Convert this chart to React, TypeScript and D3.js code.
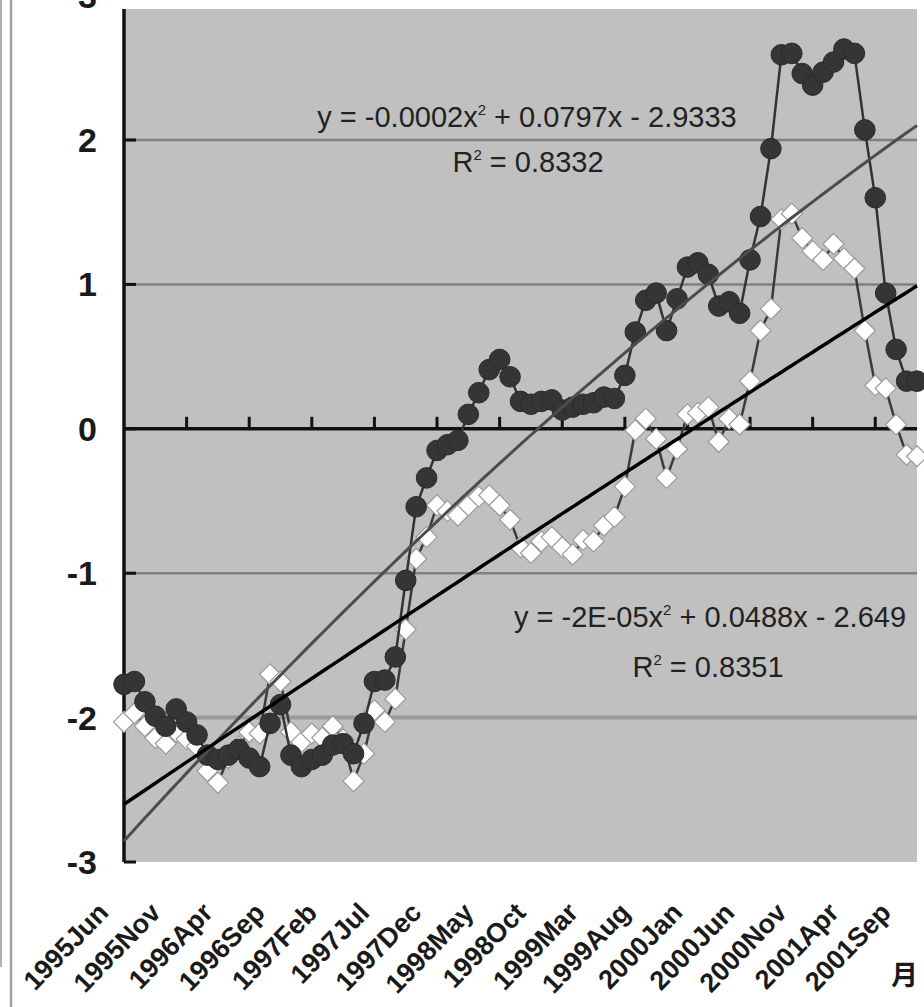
import React from 'react';
import * as d3 from 'd3';

const W = 924;
const H = 1007;

// monthly categories 1995Jun .. 2001Oct (77 months)
const monthNames = ['Jan', 'Feb', 'Mar', 'Apr', 'May', 'Jun', 'Jul', 'Aug', 'Sep', 'Oct', 'Nov', 'Dec'];
const categories: string[] = [];
for (let k = 0; k < 77; k++) {
  const m = 5 + k;
  categories.push(`${1995 + Math.floor(m / 12)}${monthNames[m % 12]}`);
}

const tickLabels = [
  '1995Jun', '1995Nov', '1996Apr', '1996Sep', '1997Feb', '1997Jul', '1997Dec', '1998May',
  '1998Oct', '1999Mar', '1999Aug', '2000Jan', '2000Jun', '2000Nov', '2001Apr', '2001Sep',
];

const yTicks = [-3, -2, -1, 0, 1, 2, 3];
const gridValues = [-2, -1, 1, 2];

// dark circle series
const circleSeries = [
  -1.77, -1.75, -1.89, -1.99, -2.06, -1.94, -2.03, -2.12, -2.26, -2.29,
  -2.26, -2.22, -2.28, -2.34, -2.04, -1.91, -2.26, -2.34, -2.29, -2.26,
  -2.19, -2.18, -2.25, -2.04, -1.75, -1.74, -1.58, -1.05, -0.54, -0.34,
  -0.15, -0.11, -0.08, 0.10, 0.25, 0.41, 0.48, 0.36, 0.19, 0.17,
  0.19, 0.20, 0.13, 0.15, 0.17, 0.18, 0.22, 0.21, 0.37, 0.67,
  0.89, 0.94, 0.68, 0.90, 1.12, 1.15, 1.07, 0.85, 0.88, 0.80,
  1.17, 1.47, 1.94, 2.59, 2.60, 2.46, 2.38, 2.47, 2.54, 2.63,
  2.60, 2.07, 1.60, 0.94, 0.55, 0.33, 0.33,
];

// white diamond series
const diamondSeries = [
  -2.03, -1.97, -2.06, -2.14, -2.18, -2.10, -2.15, -2.20, -2.37, -2.45,
  -2.28, -2.20, -2.10, -2.11, -1.70, -1.75, -2.10, -2.17, -2.11, -2.14,
  -2.06, -2.15, -2.44, -2.25, -1.95, -2.03, -1.87, -1.39, -0.90, -0.75,
  -0.53, -0.57, -0.60, -0.53, -0.47, -0.46, -0.53, -0.63, -0.82, -0.86,
  -0.78, -0.75, -0.82, -0.87, -0.77, -0.78, -0.67, -0.61, -0.40, -0.01,
  0.07, -0.07, -0.34, -0.14, 0.10, 0.11, 0.15, -0.09, 0.07, 0.03,
  0.33, 0.68, 0.83, 1.45, 1.49, 1.32, 1.23, 1.17, 1.28, 1.18,
  1.11, 0.68, 0.30, 0.28, 0.03, -0.18, -0.19,
];

// polynomial trendline coefficients [x^2, x, const], x = 1..N
const circleTrendCoef = [-0.000186, 0.0797, -2.9333];
const diamondTrendCoef = [-0.00002, 0.0488, -2.649];

const circleEq = { pre: 'y = -0.0002x', post: ' + 0.0797x - 2.9333', r2: ' = 0.8332' };
const diamondEq = { pre: 'y = -2E-05x', post: ' + 0.0488x - 2.649', r2: ' = 0.8351' };

const FONT = "'Liberation Sans', Arial, sans-serif";

export default function App() {
  const left = 124;
  const right = 917;
  const bottom = 862;
  const unit = 144.4;
  const x = d3.scalePoint<string>().domain(categories).range([left, right]);
  const y = d3.scaleLinear().domain([-3, 3]).range([bottom, bottom - 6 * unit]);
  const tIdx = d3.scaleLinear().domain([0, categories.length - 1]).range([left, right]);

  const seriesLine = d3
    .line<number>()
    .x((_, i) => x(categories[i]) as number)
    .y((d) => y(d));

  const trendPath = (coef: number[]) => {
    const pts: [number, number][] = d3
      .range(0, categories.length - 1 + 0.0001, 0.5)
      .map((t) => {
        const xx = t + 1;
        return [tIdx(t), y(coef[0] * xx * xx + coef[1] * xx + coef[2])];
      });
    return d3.line()(pts) as string;
  };

  const r = 10.5;
  const diamondPath = `M0,${-r}L${r},0L0,${r}L${-r},0Z`;

  const xTickCats = categories.filter((_, i) => i % 6 === 0 && i > 0);

  return (
    <svg
      width={W}
      height={H}
      viewBox={`0 0 ${W} ${H}`}
      style={{ position: 'absolute', left: 0, top: 0, background: '#fff' }}
    >
      {/* frame lines on the left */}
      <line x1={1} x2={1} y1={0} y2={967} stroke="#b0b0b0" strokeWidth={2} />
      <line x1={11} x2={11} y1={0} y2={H} stroke="#a0a0a0" strokeWidth={2.5} />

      {/* plot area */}
      <rect x={left} y={9} width={right - left} height={bottom - 9} fill="#c0c0c0" />

      {/* gridlines */}
      {gridValues.map((v) => (
        <line
          key={`g${v}`}
          x1={left}
          x2={right}
          y1={y(v)}
          y2={y(v)}
          stroke={v === -2 ? '#9a9a9a' : '#808080'}
          strokeWidth={v === -2 ? 4 : 2.5}
        />
      ))}

      {/* y axis */}
      <line x1={left} x2={left} y1={9} y2={bottom} stroke="#111" strokeWidth={3.5} />
      {yTicks.map((v) => (
        <g key={`yt${v}`}>
          <line x1={left} x2={left + 12} y1={y(v)} y2={y(v)} stroke="#111" strokeWidth={3} />
          <text
            x={97}
            y={y(v) + 12}
            textAnchor="end"
            fontFamily={FONT}
            fontWeight="bold"
            fontSize={34}
            fill="#1a1a1a"
          >
            {v < 0 ? `-${Math.abs(v)}` : `${v}`}
          </text>
        </g>
      ))}

      {/* x axis at zero */}
      <line x1={left} x2={right} y1={y(0)} y2={y(0)} stroke="#111" strokeWidth={3.5} />
      {xTickCats.map((c) => (
        <line
          key={`xt${c}`}
          x1={x(c)}
          x2={x(c)}
          y1={y(0)}
          y2={y(0) - 12}
          stroke="#111"
          strokeWidth={3}
        />
      ))}

      {/* diamond series */}
      <path d={seriesLine(diamondSeries) as string} fill="none" stroke="#3a3a3a" strokeWidth={2.5} />
      {diamondSeries.map((v, i) => (
        <path
          key={`d${i}`}
          d={diamondPath}
          transform={`translate(${x(categories[i])},${y(v)})`}
          fill="#ffffff"
          stroke="#9a9a9a"
          strokeWidth={1.2}
        />
      ))}

      {/* circle series */}
      <path d={seriesLine(circleSeries) as string} fill="none" stroke="#333" strokeWidth={2.5} />
      {circleSeries.map((v, i) => (
        <circle
          key={`c${i}`}
          cx={x(categories[i])}
          cy={y(v)}
          r={10.3}
          fill="#353535"
          stroke="#2a2a2a"
          strokeWidth={1}
        />
      ))}

      {/* trendlines */}
      <path d={trendPath(circleTrendCoef)} fill="none" stroke="#4c4c4c" strokeWidth={3} />
      <path d={trendPath(diamondTrendCoef)} fill="none" stroke="#000" strokeWidth={3.5} />

      {/* equation labels */}
      <text x={527} y={127} textAnchor="middle" fontFamily={FONT} fontSize={29} fill="#222">
        {circleEq.pre}
        <tspan dy={-12} fontSize={15}>2</tspan>
        <tspan dy={12}>{circleEq.post}</tspan>
      </text>
      <text x={528} y={172} textAnchor="middle" fontFamily={FONT} fontSize={29} fill="#222">
        R<tspan dy={-12} fontSize={15}>2</tspan>
        <tspan dy={12}>{circleEq.r2}</tspan>
      </text>
      <text x={710} y={627} textAnchor="middle" fontFamily={FONT} fontSize={29} fill="#222">
        {diamondEq.pre}
        <tspan dy={-12} fontSize={15}>2</tspan>
        <tspan dy={12}>{diamondEq.post}</tspan>
      </text>
      <text x={708} y={677} textAnchor="middle" fontFamily={FONT} fontSize={29} fill="#222">
        R<tspan dy={-12} fontSize={15}>2</tspan>
        <tspan dy={12}>{diamondEq.r2}</tspan>
      </text>

      {/* x tick labels */}
      {tickLabels.map((lab) => {
        const px = (x(lab) as number) - 14;
        const py = 914;
        return (
          <text
            key={`xl${lab}`}
            x={px}
            y={py}
            transform={`rotate(-46, ${px}, ${py})`}
            textAnchor="end"
            fontFamily={FONT}
            fontWeight="bold"
            fontSize={27}
            fill="#1a1a1a"
          >
            {lab}
          </text>
        );
      })}

      {/* axis title */}
      <text
        x={918}
        y={985}
        textAnchor="end"
        fontFamily="'Noto Sans CJK JP', sans-serif"
        fontSize={27}
        fontWeight="bold"
        fill="#1a1a1a"
      >
        月
      </text>
    </svg>
  );
}
